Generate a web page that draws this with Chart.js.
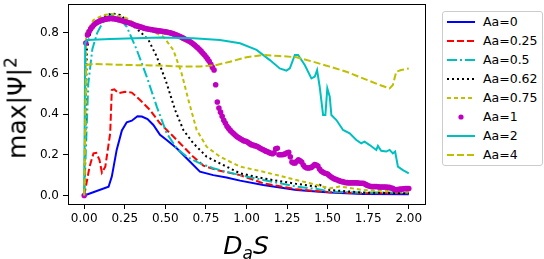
<!DOCTYPE html>
<html>
<head>
<meta charset="utf-8">
<script src="https://cdn.jsdelivr.net/npm/chart.js@4"></script>
<style>
  body { margin: 0; background: #fff; }
  #wrap { position: relative; width: 544px; height: 259px; font-family: "DejaVu Sans", sans-serif; }
  #ylab { position: absolute; left: 17px; top: 108px; transform: translate(-50%, -50%) rotate(-90deg); font-size: 25px; white-space: nowrap; }
  #ylab sup { font-size: 17px; vertical-align: 9px; line-height: 0; }
  #xlab { position: absolute; left: 246px; top: 245px; transform: translate(-50%, -50%); font-size: 25px; font-style: italic; white-space: nowrap; }
  #xlab sub { font-size: 17px; vertical-align: -5px; line-height: 0; }
  #legend { position: absolute; left: 442px; top: 11px; width: 99px; height: 153px; border: 1px solid #ccc; border-radius: 3px; background: #fff; }
  .row { position: absolute; left: 0; height: 16px; width: 99px; font-size: 12.5px; line-height: 16px; }
  .row svg { position: absolute; left: 4px; top: 4px; }
  .row span { position: absolute; left: 40px; top: 0; }
</style>
</head>
<body>
<div id="wrap">
  <canvas id="chart" width="544" height="259"></canvas>
  <div id="ylab">max|Ψ|<sup>2</sup></div>
  <div id="xlab">D<sub>a</sub>S</div>
  <div id="legend"></div>
</div>
<script>
// tick labels
const xTicks = [0, 0.25, 0.5, 0.75, 1.0, 1.25, 1.5, 1.75, 2.0];
const yTicks = [0, 0.2, 0.4, 0.6, 0.8];

// Aa=0
const x0 = [0, 0.15, 0.17, 0.2, 0.232, 0.262, 0.293, 0.328, 0.355, 0.39, 0.426, 0.467, 0.508, 0.57, 0.631, 0.713, 0.795, 0.877, 0.96, 1.103, 1.308, 1.513, 1.718, 2.0];
const y0 = [0, 0.043, 0.093, 0.224, 0.32, 0.36, 0.368, 0.39, 0.388, 0.376, 0.347, 0.298, 0.273, 0.232, 0.183, 0.117, 0.1, 0.088, 0.073, 0.052, 0.027, 0.014, 0.007, 0.006];

// Aa=0.25
const x025 = [0, 0.033, 0.057, 0.074, 0.094, 0.109, 0.13, 0.16, 0.17, 0.185, 0.211, 0.252, 0.293, 0.344, 0.406, 0.467, 0.529, 0.59, 0.672, 0.734, 0.816, 0.96, 1.103, 1.308, 1.513, 1.718, 2.0];
const y025 = [0, 0.142, 0.207, 0.21, 0.175, 0.112, 0.142, 0.306, 0.519, 0.522, 0.503, 0.51, 0.506, 0.47, 0.42, 0.355, 0.306, 0.257, 0.19, 0.147, 0.125, 0.1, 0.06, 0.03, 0.016, 0.011, 0.011];

// Aa=0.5
const x05 = [0, 0.025, 0.05, 0.08, 0.12, 0.16, 0.211, 0.262, 0.324, 0.385, 0.447, 0.508, 0.57, 0.631, 0.713, 0.795, 0.96, 1.103, 1.308, 1.451, 1.513, 1.718, 2.0];
const y05 = [0, 0.55, 0.72, 0.8, 0.86, 0.888, 0.88, 0.83, 0.716, 0.585, 0.437, 0.306, 0.232, 0.191, 0.158, 0.134, 0.1, 0.076, 0.044, 0.03, 0.019, 0.014, 0.014];

// Aa=0.62
const x062 = [0, 0.016, 0.037, 0.068, 0.119, 0.17, 0.221, 0.283, 0.344, 0.396, 0.447, 0.508, 0.56, 0.611, 0.672, 0.754, 0.836, 0.96, 1.103, 1.308, 1.431, 1.451, 1.513, 1.718, 2.0];
const y062 = [0, 0.717, 0.798, 0.847, 0.88, 0.896, 0.888, 0.847, 0.806, 0.765, 0.683, 0.552, 0.42, 0.322, 0.257, 0.191, 0.158, 0.109, 0.084, 0.057, 0.044, 0.052, 0.027, 0.014, 0.011];

// Aa=0.75
const x075 = [0, 0.012, 0.057, 0.119, 0.17, 0.262, 0.344, 0.426, 0.488, 0.549, 0.6, 0.642, 0.693, 0.754, 0.836, 0.96, 1.103, 1.308, 1.431, 1.513, 1.574, 1.718, 2.0];
const y075 = [0, 0.8, 0.863, 0.888, 0.893, 0.872, 0.83, 0.806, 0.781, 0.716, 0.601, 0.47, 0.322, 0.24, 0.191, 0.142, 0.117, 0.076, 0.052, 0.035, 0.044, 0.027, 0.019];

// Aa=1 (dots)
const x1 = [
  0.00, 0.01, 0.02, 0.03, 0.04, 0.05, 0.06, 0.07, 0.08, 0.09, 0.10, 0.11, 0.12, 0.13, 0.14, 0.15, 0.16, 0.17, 0.18, 0.19,
  0.20, 0.21, 0.22, 0.23, 0.24, 0.25, 0.26, 0.27, 0.28, 0.29, 0.30, 0.31, 0.32, 0.33, 0.34, 0.35, 0.36, 0.37, 0.38, 0.39,
  0.40, 0.41, 0.42, 0.43, 0.44, 0.45, 0.46, 0.47, 0.48, 0.49, 0.50, 0.51, 0.52, 0.53, 0.54, 0.55, 0.56, 0.57, 0.58, 0.59,
  0.60, 0.61, 0.62, 0.63, 0.64, 0.65, 0.66, 0.67, 0.68, 0.69, 0.70, 0.71, 0.72, 0.73, 0.74, 0.75, 0.76, 0.77, 0.78, 0.79,
  0.80, 0.81, 0.82, 0.83, 0.84, 0.85, 0.86, 0.87, 0.88, 0.89, 0.90, 0.91, 0.92, 0.93, 0.94, 0.95, 0.96, 0.97, 0.98, 0.99,
  1.00, 1.01, 1.02, 1.03, 1.04, 1.05, 1.06, 1.07, 1.08, 1.09, 1.10, 1.11, 1.12, 1.13, 1.14, 1.15, 1.16, 1.17, 1.18, 1.19,
  1.20, 1.21, 1.22, 1.23, 1.24, 1.25, 1.26, 1.27, 1.28, 1.29, 1.30, 1.31, 1.32, 1.33, 1.34, 1.35, 1.36, 1.37, 1.38, 1.39,
  1.40, 1.41, 1.42, 1.43, 1.44, 1.45, 1.46, 1.47, 1.48, 1.49, 1.50, 1.51, 1.52, 1.53, 1.54, 1.55, 1.56, 1.57, 1.58, 1.59,
  1.60, 1.61, 1.62, 1.63, 1.64, 1.65, 1.66, 1.67, 1.68, 1.69, 1.70, 1.71, 1.72, 1.73, 1.74, 1.75, 1.76, 1.77, 1.78, 1.79,
  1.80, 1.81, 1.82, 1.83, 1.84, 1.85, 1.86, 1.87, 1.88, 1.89, 1.90, 1.91, 1.92, 1.93, 1.94, 1.95, 1.96, 1.97, 1.98, 1.99,
  2.00];
const y1 = [
  0, 0.75, 0.79, 0.806, 0.82, 0.83, 0.84, 0.846, 0.852, 0.856, 0.86, 0.863, 0.865, 0.867, 0.869, 0.87, 0.871, 0.871, 0.87, 0.869,
  0.867, 0.865, 0.863, 0.861, 0.858, 0.856, 0.853, 0.851, 0.848, 0.845, 0.842, 0.839, 0.836, 0.833, 0.831, 0.828, 0.826, 0.823, 0.821, 0.819,
  0.818, 0.816, 0.815, 0.813, 0.812, 0.811, 0.81, 0.809, 0.808, 0.806, 0.805, 0.804, 0.802, 0.8, 0.798, 0.795, 0.792, 0.789, 0.785, 0.782,
  0.778, 0.774, 0.77, 0.766, 0.762, 0.757, 0.752, 0.746, 0.74, 0.733, 0.726, 0.718, 0.71, 0.701, 0.692, 0.682, 0.672, 0.66, 0.645, 0.63,
  0.617, 0.545, 0.46, 0.43, 0.41, 0.39, 0.37, 0.355, 0.34, 0.33, 0.32, 0.312, 0.305, 0.297, 0.29, 0.285, 0.28, 0.275, 0.27, 0.268,
  0.265, 0.26, 0.255, 0.25, 0.248, 0.245, 0.243, 0.24, 0.235, 0.23, 0.226, 0.222, 0.218, 0.215, 0.211, 0.208, 0.205, 0.21, 0.23, 0.232,
  0.2, 0.2, 0.2, 0.202, 0.205, 0.21, 0.212, 0.19, 0.165, 0.16, 0.16, 0.168, 0.175, 0.17, 0.165, 0.15, 0.14, 0.136, 0.135, 0.136,
  0.138, 0.145, 0.152, 0.15, 0.145, 0.13, 0.12, 0.115, 0.11, 0.108, 0.105, 0.098, 0.092, 0.087, 0.082, 0.079, 0.076, 0.073, 0.07, 0.068,
  0.066, 0.064, 0.063, 0.062, 0.062, 0.062, 0.062, 0.062, 0.062, 0.061, 0.06, 0.06, 0.06, 0.056, 0.052, 0.048, 0.045, 0.044, 0.044, 0.044,
  0.044, 0.043, 0.042, 0.042, 0.042, 0.042, 0.042, 0.04, 0.04, 0.037, 0.035, 0.03, 0.028, 0.029, 0.03, 0.031, 0.032, 0.033, 0.034, 0.034,
  0.034];

// Aa=2
const x2 = [0, 0.006, 0.016, 0.16, 0.467, 0.672, 0.836, 0.96, 1.062, 1.144, 1.205, 1.246, 1.267, 1.298, 1.318, 1.359, 1.4, 1.421, 1.435, 1.451, 1.472, 1.486, 1.498, 1.513, 1.523, 1.554, 1.595, 1.636, 1.677, 1.707, 1.728, 1.759, 1.8, 1.81, 1.83, 1.861, 1.882, 1.902, 1.916, 1.933, 1.964, 2.0];
const y2 = [0, 0.749, 0.765, 0.77, 0.777, 0.773, 0.765, 0.749, 0.716, 0.666, 0.625, 0.614, 0.625, 0.691, 0.691, 0.642, 0.576, 0.585, 0.617, 0.535, 0.396, 0.396, 0.527, 0.486, 0.396, 0.371, 0.322, 0.306, 0.273, 0.257, 0.265, 0.248, 0.224, 0.244, 0.22, 0.216, 0.224, 0.207, 0.216, 0.142, 0.125, 0.109];

// Aa=4
const x4 = [0, 0.012, 0.057, 0.262, 0.467, 0.611, 0.713, 0.816, 0.898, 1.0, 1.103, 1.205, 1.308, 1.41, 1.513, 1.615, 1.718, 1.82, 1.882, 1.902, 1.923, 1.953, 2.0];
const y4 = [0, 0.642, 0.647, 0.642, 0.639, 0.634, 0.634, 0.642, 0.658, 0.68, 0.691, 0.686, 0.68, 0.658, 0.634, 0.609, 0.576, 0.544, 0.527, 0.544, 0.609, 0.617, 0.625];

const labels = ["Aa=0", "Aa=0.25", "Aa=0.5", "Aa=0.62", "Aa=0.75", "Aa=1", "Aa=2", "Aa=4"];

const pts = (xs, ys) => xs.map((x, i) => ({ x: x, y: ys[i] }));

const styles = [
  { color: "#0000ff", dash: [] },
  { color: "#ff0000", dash: [7, 3] },
  { color: "#00bfbf", dash: [10, 3, 2, 3] },
  { color: "#000000", dash: [2, 3] },
  { color: "#bfbf00", dash: [4, 3] },
  { color: "#bf00bf", dot: true },
  { color: "#00bfbf", dash: [] },
  { color: "#bfbf00", dash: [7, 3] },
];
const series = [[x0, y0], [x025, y025], [x05, y05], [x062, y062], [x075, y075], [x1, y1], [x2, y2], [x4, y4]];

const datasets = series.map((s, i) => {
  const st = styles[i];
  if (st.dot) {
    return {
      label: labels[i], data: pts(s[0], s[1]), showLine: false,
      pointRadius: 2.8, pointBackgroundColor: st.color, pointBorderWidth: 0,
      order: series.length - i,
    };
  }
  return {
    label: labels[i], data: pts(s[0], s[1]), borderColor: st.color, borderWidth: 2,
    borderDash: st.dash, pointRadius: 0, tension: 0, fill: false,
    order: series.length - i,
  };
});

const tickFont = { family: "DejaVu Sans", size: 12 };

const framePlugin = {
  id: "frame",
  afterDraw(chart) {
    const { ctx, chartArea: a } = chart;
    ctx.save();
    ctx.strokeStyle = "#000";
    ctx.lineWidth = 1;
    ctx.strokeRect(Math.round(a.left) + 0.5, Math.round(a.top) + 0.5, Math.round(a.right - a.left), Math.round(a.bottom - a.top));
    ctx.restore();
  },
};

const noPad = (s) => { s.paddingTop = 0; s.paddingBottom = 0; s.paddingLeft = 0; s.paddingRight = 0; };

new Chart(document.getElementById("chart"), {
  type: "line",
  data: { datasets },
  options: {
    responsive: false,
    animation: false,
    devicePixelRatio: 1,
    layout: { padding: { left: 0, right: 119, top: 4, bottom: 0 } },
    plugins: { legend: { display: false }, tooltip: { enabled: false } },
    scales: {
      x: {
        type: "linear", min: -0.1, max: 2.1,
        afterBuildTicks: (s) => { s.ticks = xTicks.map((v) => ({ value: v })); },
        afterFit: (s) => { s.height = 55; noPad(s); },
        ticks: { callback: (v) => v.toFixed(2), font: tickFont, color: "#000", maxRotation: 0, autoSkip: false, padding: 3 },
        grid: { drawOnChartArea: false, tickLength: 5, color: "#000" },
        border: { color: "#000" },
      },
      y: {
        type: "linear", min: -0.042, max: 0.942,
        afterBuildTicks: (s) => { s.ticks = yTicks.map((v) => ({ value: v })); },
        afterFit: (s) => { s.width = 68; noPad(s); },
        ticks: { callback: (v) => v.toFixed(1), font: tickFont, color: "#000", autoSkip: false, padding: 4 },
        grid: { drawOnChartArea: false, tickLength: 5, color: "#000" },
        border: { color: "#000" },
      },
    },
  },
  plugins: [framePlugin],
});

// legend
const legend = document.getElementById("legend");
labels.forEach((lab, i) => {
  const st = styles[i];
  const row = document.createElement("div");
  row.className = "row";
  row.style.top = (2 + i * 19) + "px";
  let mark;
  if (st.dot) {
    mark = `<circle cx="14" cy="4" r="2.6" fill="${st.color}"/>`;
  } else {
    mark = `<line x1="0" y1="4" x2="28" y2="4" stroke="${st.color}" stroke-width="2" stroke-dasharray="${st.dash.join(",")}"/>`;
  }
  row.innerHTML = `<svg width="28" height="8">${mark}</svg><span>${lab}</span>`;
  legend.appendChild(row);
});
</script>
</body>
</html>
